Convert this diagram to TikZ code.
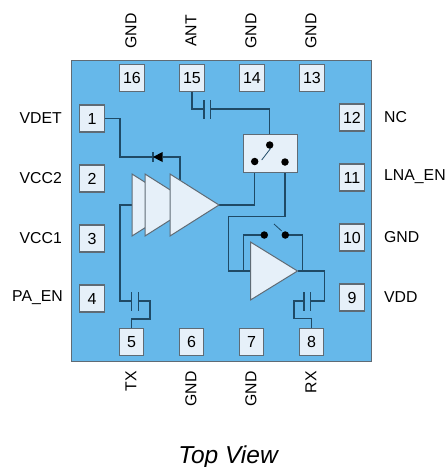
\documentclass[tikz,border=0pt]{standalone}
\usepackage{fontspec}
\setmainfont{Liberation Sans}
\usetikzlibrary{positioning}
\usetikzlibrary{shapes.geometric}
\usetikzlibrary{backgrounds}
\definecolor{chipblue}{HTML}{66B8EA}
\definecolor{boxfill}{HTML}{E6F0F9}
\definecolor{wirecol}{HTML}{1F4A66}
\definecolor{edgecol}{HTML}{5F6B75}
\tikzset{
  x=1pt, y=-1pt,
  pinbox/.style={rectangle,draw=edgecol,fill=boxfill,line width=1.1pt,minimum width=24.5pt,minimum height=27pt,inner sep=0pt,outer sep=0pt,font=\fontsize{16}{16}\selectfont},
  pinname/.style={inner sep=0pt,font=\fontsize{15.8}{16}\selectfont},
  amptri/.style={isosceles triangle,isosceles triangle stretches=true,draw=edgecol,fill=boxfill,line width=1pt,inner sep=0pt,outer sep=0pt,anchor=apex},
  wire/.style={draw=wirecol,line width=1.1pt},
  contact/.style={circle,fill=black,inner sep=0pt,minimum size=7.5pt},
  plate/.style={draw=wirecol,line width=1.1pt},
}
\begin{document}
\begin{tikzpicture}

            \useasboundingbox (0,0) rectangle (447,467);

            % pins
            \path   (92,118.5) node (p1) [pinbox] {1}
                    (92,178.5) node (p2) [pinbox] {2}
                    (92,238.5) node (p3) [pinbox] {3}
                    (92,298.5) node (p4) [pinbox] {4}
                    (131.5,342) node (p5) [pinbox] {5}
                    (191.5,342) node (p6) [pinbox] {6}
                    (251.5,342) node (p7) [pinbox] {7}
                    (311.5,342) node (p8) [pinbox] {8}
                    (352,297.5) node (p9) [pinbox] {9}
                    (352,237.5) node (p10) [pinbox] {10}
                    (352,177.5) node (p11) [pinbox] {11}
                    (352,117.5) node (p12) [pinbox] {12}
                    (312,78) node (p13) [pinbox] {13}
                    (252,78) node (p14) [pinbox] {14}
                    (192,78) node (p15) [pinbox] {15}
                    (132,78) node (p16) [pinbox] {16};

            % names
            \path   (62,118) node (n1) [pinname,anchor=east] {VDET}
                    (62,178) node (n2) [pinname,anchor=east] {VCC2}
                    (62,238) node (n3) [pinname,anchor=east] {VCC1}
                    (63,298) node (n4) [pinname,anchor=east] {PA\_EN}
                    (384,117) node (n12) [pinname,anchor=west] {NC}
                    (384,177) node (n11) [pinname,anchor=west] {LNA\_EN}
                    (384,237) node (n10) [pinname,anchor=west] {GND}
                    (384,297) node (n9) [pinname,anchor=west] {VDD}
                    (131,31) node (n16) [pinname,rotate=90] {GND}
                    (191,31) node (n15) [pinname,rotate=90] {ANT}
                    (251,31) node (n14) [pinname,rotate=90] {GND}
                    (311,31) node (n13) [pinname,rotate=90] {GND}
                    (131,371) node (n5) [pinname,rotate=90,anchor=east] {TX}
                    (191,371) node (n6) [pinname,rotate=90,anchor=east] {GND}
                    (251,371) node (n7) [pinname,rotate=90,anchor=east] {GND}
                    (311,371) node (n8) [pinname,rotate=90,anchor=east] {RX}
                    (228,457) node (title) [inner sep=0pt,font=\fontsize{24.5}{25}\selectfont\itshape] {Top View};

            % amplifiers
            \path   (181,205) node (pa1) [amptri,minimum height=49pt,minimum width=62pt] {}
                    (194,205) node (pa2) [amptri,minimum height=49pt,minimum width=62pt] {}
                    (219,205) node (pa3) [amptri,minimum height=49pt,minimum width=62pt] {}
                    (297.5,271) node (lna) [amptri,minimum height=47pt,minimum width=58pt] {};

            % switches
            \path   (270,153.7) node (sw) [rectangle,draw=edgecol,fill=boxfill,line width=1pt,minimum width=54pt,minimum height=38pt,inner sep=0pt] {}
                    (269.7,145) node (swc) [contact] {}
                    (254.7,161.5) node (swl) [contact] {}
                    (285,162) node (swr) [contact] {}
                    (264.3,235) node (lnal) [contact] {}
                    (285.3,235) node (lnar) [contact] {};

            % capacitors
            \path   (131.7,301) coordinate (c5a) (138.3,301) coordinate (c5b)
                    (204,109) coordinate (c15a) (210.5,109) coordinate (c15b)
                    (304,301) coordinate (c8a) (310.7,301) coordinate (c8b)
                    (153,157) coordinate (dk) (162.5,157) coordinate (da);

            \foreach \c in {c5a,c5b,c15a,c15b,c8a,c8b}
                \draw[plate] ([yshift=-9.5pt]\c) -- ([yshift=9.5pt]\c);

            \begin{scope}[on background layer]
            \path   (221,210.5) node (chip) [rectangle,draw=edgecol,fill=chipblue,line width=1pt,minimum width=300pt,minimum height=301pt,inner sep=0pt] {};
            \draw[wire] (p1.east) -| (120,157) -- (dk);
            \draw[wire] (da) -- (180,157) -- (180,190);
            \draw[wire] (pa1.west) -- (120,205) |- (c5a);
            \draw[wire] (c5b) -- (150,301) -- (150,319) -| (p5.north);
            \draw[wire] (p15.south) |- (c15a);
            \draw[wire] (c15b) -| (swc.center);
            \draw[wire] (pa3.apex) -| (swl.center);
            \draw[wire] (swr.center) |- (228.3,216.7) |- (lna.west);
            \draw[wire] (243.7,271) |- (lnal.center);
            \draw[wire] (lnar.center) -| (302.7,271);
            \draw[wire] (lna.apex) -- (324.7,271) |- (c8b);
            \draw[wire] (c8a) -- (294,301) -- (294,318.7) -| (p8.north);
            \end{scope}

            % diode
            \draw[wire] ([yshift=-5pt]dk) -- ([yshift=5pt]dk);
            \fill[black] (dk) -- (162.5,152) -- (162.5,162) -- cycle;

            % switch arms
            \draw[wire,line width=.8pt] (270.7,148.3) -- (261.7,160);
            \draw[wire,line width=.8pt] (274,224) -- (281.7,231);

\end{tikzpicture}
\end{document}
